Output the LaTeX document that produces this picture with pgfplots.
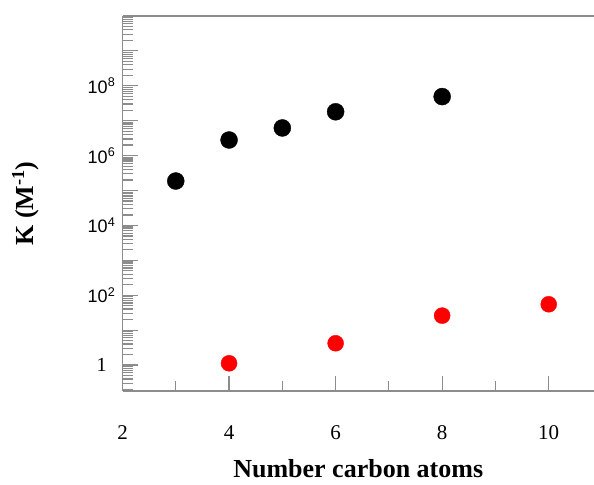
\documentclass[border=0pt]{standalone}
\usepackage{fontspec}
\setmainfont{Liberation Serif}
\setsansfont{Liberation Sans}
\usepackage{pgfplots}
\pgfplotsset{compat=1.18}

\definecolor{axgray}{RGB}{140,140,140}
\newcommand{\pw}[1]{{\sffamily\fontsize{18}{18}\selectfont 10\textsuperscript{#1}}}

\begin{document}
\begin{tikzpicture}
\begin{axis}[
    scale only axis,
    width=471.5pt, height=375pt,
    ymode=log,
    xmin=2, xmax=10.85,
    ymin=0.18, ymax=1e10,
    axis lines=left,
    axis line style={-, axgray, line width=1.5pt},
    every tick/.style={axgray, line width=1.2pt},
    tick align=inside,
    major tick length=15pt,
    minor tick length=10pt,
    /pgf/number format/assume math mode=true,
    xtick={2,4,6,8,10},
    minor x tick num=1,
    ytick={1,1e1,1e2,1e3,1e4,1e5,1e6,1e7,1e8,1e9},
    yticklabels={{\fontsize{20}{20}\selectfont 1},,\pw{2},,\pw{4},,\pw{6},,\pw{8},},
    minor ytick={0.2,0.3,0.4,0.5,0.6,0.7,0.8,0.9,
      2,3,4,5,6,7,8,9,
      20,30,40,50,60,70,80,90,
      200,300,400,500,600,700,800,900,
      2e3,3e3,4e3,5e3,6e3,7e3,8e3,9e3,
      2e4,3e4,4e4,5e4,6e4,7e4,8e4,9e4,
      2e5,3e5,4e5,5e5,6e5,7e5,8e5,9e5,
      2e6,3e6,4e6,5e6,6e6,7e6,8e6,9e6,
      2e7,3e7,4e7,5e7,6e7,7e7,8e7,9e7,
      2e8,3e8,4e8,5e8,6e8,7e8,8e8,9e8,
      2e9,3e9,4e9,5e9,6e9,7e9,8e9,9e9},
    xticklabel={\pgfmathprintnumber{\tick}},
    xticklabel style={font=\fontsize{21}{21}\selectfont, anchor=center, yshift=-42pt},
    yticklabel style={anchor=center, xshift=-21pt},
    xlabel={\textbf{Number carbon atoms}},
    ylabel={\textbf{K (M\textsuperscript{-1})}},
    label style={font=\fontsize{26}{26}\selectfont},
    xlabel style={at={(axis description cs:0.5,0)}, anchor=center, yshift=-78pt},
    ylabel style={at={(axis description cs:0,0.5)}, anchor=center, yshift=97pt},
    clip=false,
]
\addplot[only marks, mark=*, mark size=8.5pt, black] coordinates {
    (3,1.87e5) (4,2.8e6) (5,6.2e6) (6,1.8e7) (8,4.9e7)
};
\addplot[only marks, mark=*, mark size=8pt, red, mark options={fill=red, draw=red}] coordinates {
    (4,1.12) (6,4.2) (8,26) (10,55)
};
\draw[axgray, line width=1.5pt] (rel axis cs:0,1) -- (rel axis cs:1,1);
\coordinate (bl) at (rel axis cs:0,0);
\coordinate (tr) at (rel axis cs:1,1);
\end{axis}
\pgfresetboundingbox
\path[use as bounding box] ([shift={(-122.5pt,-93pt)}]bl) rectangle ([shift={(0pt,16pt)}]tr);
\end{tikzpicture}
\end{document}
